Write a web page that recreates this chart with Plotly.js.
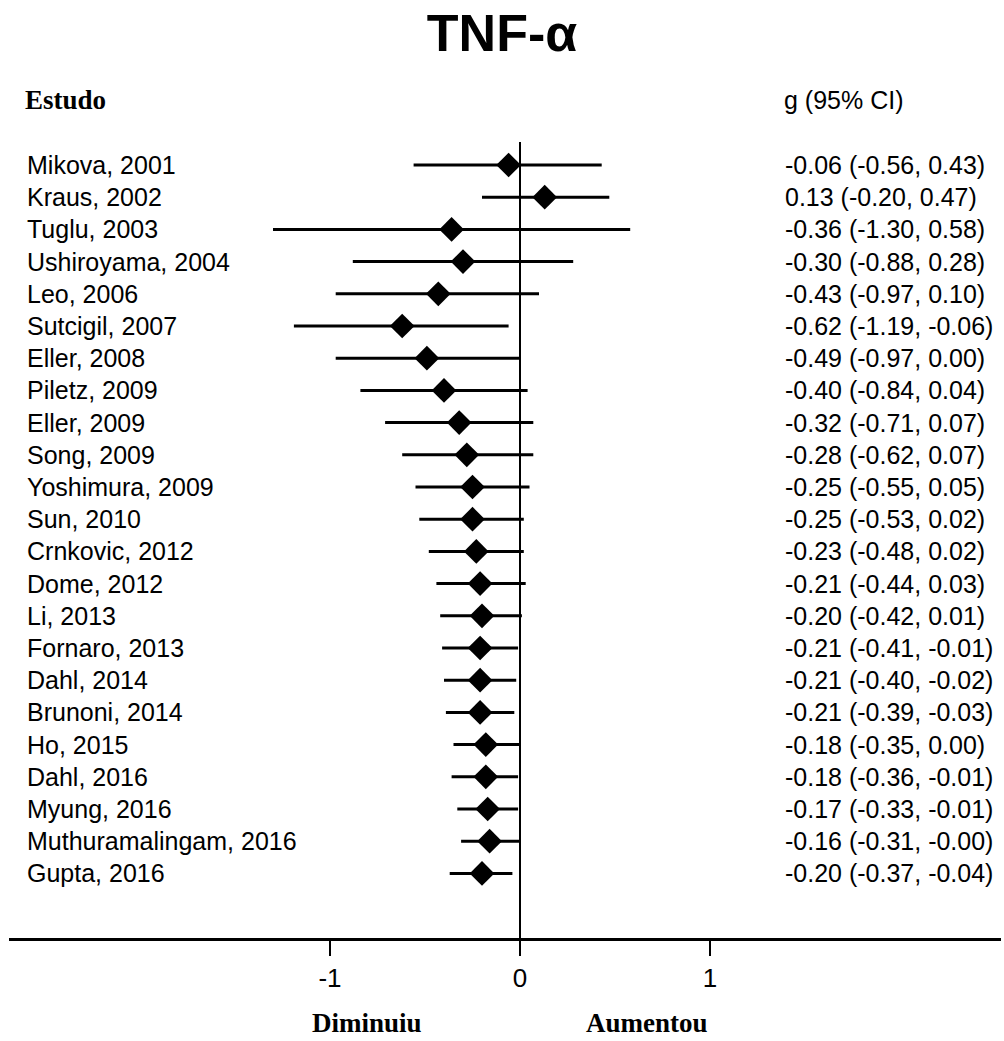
<!DOCTYPE html>
<html>
<head>
<meta charset="utf-8">
<script src="https://cdn.plot.ly/plotly-3.0.1.min.js"></script>
<style>html,body{margin:0;padding:0;background:#fff;}#chart{width:1004px;height:1041px;}</style>
</head>
<body>
<div id="chart"></div>
<script>
const studies = ["Mikova, 2001","Kraus, 2002","Tuglu, 2003","Ushiroyama, 2004","Leo, 2006","Sutcigil, 2007","Eller, 2008","Piletz, 2009","Eller, 2009","Song, 2009","Yoshimura, 2009","Sun, 2010","Crnkovic, 2012","Dome, 2012","Li, 2013","Fornaro, 2013","Dahl, 2014","Brunoni, 2014","Ho, 2015","Dahl, 2016","Myung, 2016","Muthuramalingam, 2016","Gupta, 2016"];
const g     = [-0.06, 0.13,-0.36,-0.30,-0.43,-0.62,-0.49,-0.40,-0.32,-0.28,-0.25,-0.25,-0.23,-0.21,-0.20,-0.21,-0.21,-0.21,-0.18,-0.18,-0.17,-0.16,-0.20];
const lower = [-0.56,-0.20,-1.30,-0.88,-0.97,-1.19,-0.97,-0.84,-0.71,-0.62,-0.55,-0.53,-0.48,-0.44,-0.42,-0.41,-0.40,-0.39,-0.35,-0.36,-0.33,-0.31,-0.37];
const upper = [ 0.43, 0.47, 0.58, 0.28, 0.10,-0.06, 0.00, 0.04, 0.07, 0.07, 0.05, 0.02, 0.02, 0.03, 0.01,-0.01,-0.02,-0.03, 0.00,-0.01,-0.01,-0.00,-0.04];
const ciLabels = ["-0.06 (-0.56, 0.43)","0.13 (-0.20, 0.47)","-0.36 (-1.30, 0.58)","-0.30 (-0.88, 0.28)","-0.43 (-0.97, 0.10)","-0.62 (-1.19, -0.06)","-0.49 (-0.97, 0.00)","-0.40 (-0.84, 0.04)","-0.32 (-0.71, 0.07)","-0.28 (-0.62, 0.07)","-0.25 (-0.55, 0.05)","-0.25 (-0.53, 0.02)","-0.23 (-0.48, 0.02)","-0.21 (-0.44, 0.03)","-0.20 (-0.42, 0.01)","-0.21 (-0.41, -0.01)","-0.21 (-0.40, -0.02)","-0.21 (-0.39, -0.03)","-0.18 (-0.35, 0.00)","-0.18 (-0.36, -0.01)","-0.17 (-0.33, -0.01)","-0.16 (-0.31, -0.00)","-0.20 (-0.37, -0.04)"];
const xTicks = [-1, 0, 1];
const xTickText = ["-1", "0", "1"];

const rows = studies.map((s, i) => i);
const W = 1004, H = 1041;
const mL = 9, mR = 3, mT = 142, mB = 103;
const plotH = H - mT - mB;
const plotW = W - mL - mR;
const py = p => (H - mB - p) / plotH;   // pixel y -> paper y
const px = p => (p - mL) / plotW;       // pixel x -> paper x

const sans = "Liberation Sans, Arial, sans-serif";
const serif = "Liberation Serif, Times New Roman, serif";

const trace = {
  x: g, y: rows, type: "scatter", mode: "markers",
  marker: {symbol: "diamond", size: 19, color: "#000"},
  error_x: {
    type: "data", symmetric: false,
    array: g.map((v, i) => upper[i] - v),
    arrayminus: g.map((v, i) => v - lower[i]),
    color: "#000", thickness: 3, width: 0
  },
  hoverinfo: "skip", cliponaxis: false
};

const annotations = [];
studies.forEach((s, i) => {
  annotations.push({xref: "paper", yref: "y", x: px(25), y: i, text: s, showarrow: false,
    xanchor: "left", yanchor: "middle", font: {family: sans, size: 25, color: "#000"}});
  annotations.push({xref: "paper", yref: "y", x: px(783), y: i, text: ciLabels[i], showarrow: false,
    xanchor: "left", yanchor: "middle", font: {family: sans, size: 25, color: "#000"}});
});
annotations.push({xref: "paper", yref: "paper", x: px(23), y: py(100), text: "<b>Estudo</b>", showarrow: false,
  xanchor: "left", yanchor: "middle", font: {family: serif, size: 27, color: "#000"}});
annotations.push({xref: "paper", yref: "paper", x: px(782), y: py(100), text: "g (95% CI)", showarrow: false,
  xanchor: "left", yanchor: "middle", font: {family: sans, size: 25, color: "#000"}});
annotations.push({xref: "paper", yref: "paper", x: px(367), y: py(1023), text: "<b>Diminuiu</b>", showarrow: false,
  xanchor: "center", yanchor: "middle", font: {family: serif, size: 27, color: "#000"}});
annotations.push({xref: "paper", yref: "paper", x: px(647), y: py(1023), text: "<b>Aumentou</b>", showarrow: false,
  xanchor: "center", yanchor: "middle", font: {family: serif, size: 27, color: "#000"}});

const layout = {
  width: W, height: H,
  margin: {l: mL, r: mR, t: mT, b: mB},
  paper_bgcolor: "#fff", plot_bgcolor: "#fff",
  showlegend: false,
  title: {text: "<b>TNF-α</b>", x: 0.5, xanchor: "center", y: 1 - 33 / H, yanchor: "middle",
    font: {family: sans, size: 52, color: "#000"}},
  xaxis: {
    range: [(mL - 520) / 190, (W - mR - 520) / 190],
    tickvals: xTicks, ticktext: xTickText,
    ticks: "outside", ticklen: 15, tickwidth: 2.5, tickcolor: "#000",
    showline: true, linewidth: 3, linecolor: "#000",
    showgrid: false, zeroline: false,
    tickfont: {family: sans, size: 26, color: "#000"},
    fixedrange: true
  },
  yaxis: {
    range: [(H - mB - 165) / 32.2, (mT - 165) / 32.2],
    showgrid: false, zeroline: false, showticklabels: false, showline: false, ticks: "",
    fixedrange: true
  },
  shapes: [{type: "line", xref: "x", yref: "paper", x0: 0, x1: 0, y0: 0, y1: 1,
    line: {color: "#000", width: 2}}],
  annotations: annotations
};

Plotly.newPlot("chart", [trace], layout, {displayModeBar: false, staticPlot: true});
</script>
</body>
</html>
